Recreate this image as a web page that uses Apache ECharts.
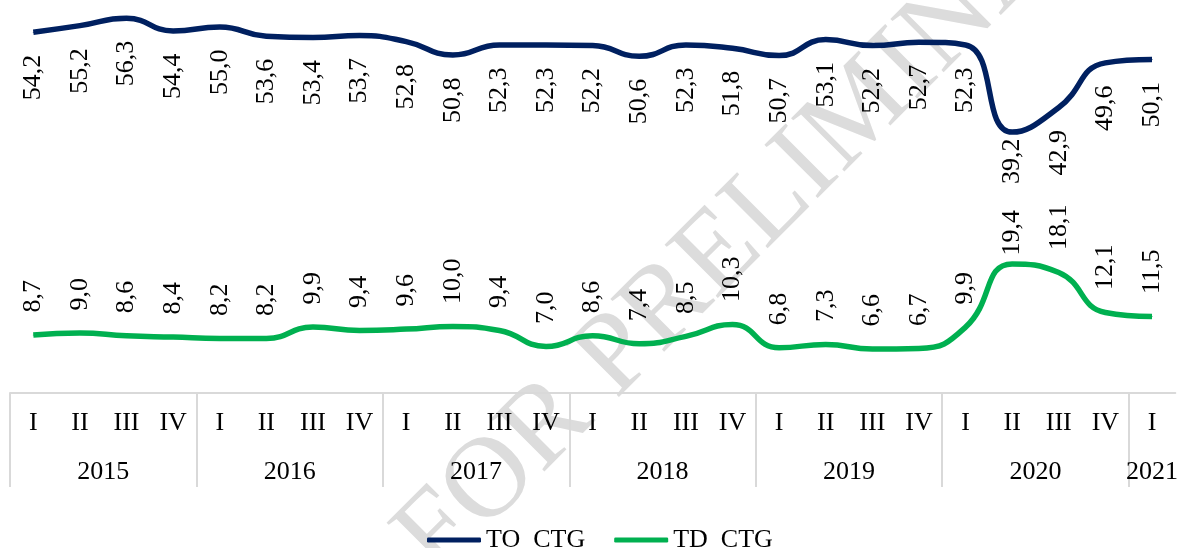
<!DOCTYPE html>
<html>
<head>
<meta charset="utf-8">
<script src="https://cdn.jsdelivr.net/npm/echarts@6/dist/echarts.min.js"></script>
<style>
  html, body { margin: 0; padding: 0; background: #fff; }
  #chart { width: 1181px; height: 548px; }
</style>
</head>
<body>
<div id="chart"></div>
<script>
// quarters 2015 I .. 2021 I
const quarters = ['I', 'II', 'III', 'IV', 'I', 'II', 'III', 'IV', 'I', 'II', 'III', 'IV',
  'I', 'II', 'III', 'IV', 'I', 'II', 'III', 'IV', 'I', 'II', 'III', 'IV', 'I'];
const years = ['2015', '2016', '2017', '2018', '2019', '2020', '2021'];
const yearCenters = [1.5, 5.5, 9.5, 13.5, 17.5, 21.5, 24];
const yearEdges = [-0.5, 3.5, 7.5, 11.5, 15.5, 19.5, 23.5];

const toCtg = [54.2, 55.2, 56.3, 54.4, 55.0, 53.6, 53.4, 53.7, 52.8, 50.8, 52.3, 52.3,
  52.2, 50.6, 52.3, 51.8, 50.7, 53.1, 52.2, 52.7, 52.3, 39.2, 42.9, 49.6, 50.1];
const tdCtg = [8.7, 9.0, 8.6, 8.4, 8.2, 8.2, 9.9, 9.4, 9.6, 10.0, 9.4, 7.0,
  8.6, 7.4, 8.5, 10.3, 6.8, 7.3, 6.6, 6.7, 9.9, 19.4, 18.1, 12.1, 11.5];

const FONT = '"Liberation Serif", "Times New Roman", serif';
const fmt = p => p.value.toFixed(1).replace('.', ',');

// 2020 II labels were pulled in closer to the line in the original
const withLabelGap = (arr, idx, gap) =>
  arr.map((v, i) => (i === idx ? { value: v, label: { distance: gap } } : v));

let chart = echarts.init(document.getElementById('chart'));
chart.setOption({
  animation: false,
  textStyle: { fontFamily: FONT, color: '#000' },
  grid: { left: 10, right: 1, top: 7, bottom: 155 },
  legend: {
    left: 422,
    top: 522,
    icon: 'roundRect',
    itemWidth: 54,
    itemHeight: 5,
    itemGap: 29,
    textStyle: { fontFamily: FONT, fontSize: 26, color: '#000' },
    data: ['TO  CTG', 'TD  CTG']
  },
  // watermark
  graphic: [{
    type: 'text',
    x: 781,
    y: 192,
    rotation: Math.PI / 4,
    silent: true,
    z: 0,
    style: {
      text: 'FOR PRELIMINARY',
      font: '115px "Liberation Serif"',
      fill: '#dcdcdc',
      textAlign: 'center',
      textVerticalAlign: 'middle'
    }
  }],
  xAxis: [
    {
      type: 'category',
      position: 'bottom',
      offset: 0,
      boundaryGap: true,
      data: quarters,
      axisLine: { show: true, lineStyle: { color: '#d9d9d9', width: 2 } },
      axisTick: { show: false },
      axisLabel: { interval: 0, margin: 17, fontFamily: FONT, fontSize: 26, color: '#000' }
    },
    {
      type: 'value',
      position: 'bottom',
      offset: 0,
      min: -0.5,
      max: 24.5,
      axisLine: { show: false },
      splitLine: { show: false },
      axisTick: {
        show: true,
        inside: false,
        length: 94,
        customValues: yearEdges,
        lineStyle: { color: '#d9d9d9', width: 2 }
      },
      axisLabel: {
        margin: 66,
        customValues: yearCenters,
        fontFamily: FONT,
        fontSize: 26,
        color: '#000',
        formatter: v => years[yearCenters.indexOf(v)] || ''
      }
    }
  ],
  yAxis: {
    type: 'value',
    min: 0,
    max: 58,
    show: false,
    splitLine: { show: false }
  },
  series: [
    {
      name: 'TO  CTG',
      type: 'line',
      xAxisIndex: 0,
      data: withLabelGap(toCtg, 21, 6),
      smooth: true,
      symbol: 'circle',
      symbolSize: 1,
      showSymbol: true,
      z: 3,
      lineStyle: { color: '#002060', width: 5.5 },
      itemStyle: { color: '#002060' },
      label: {
        show: true,
        position: 'bottom',
        distance: 22,
        rotate: 90,
        align: 'right',
        verticalAlign: 'middle',
        fontFamily: FONT,
        fontSize: 26,
        color: '#000',
        formatter: fmt
      }
    },
    {
      name: 'TD  CTG',
      type: 'line',
      xAxisIndex: 0,
      data: withLabelGap(tdCtg, 21, 8),
      smooth: true,
      symbol: 'circle',
      symbolSize: 1,
      showSymbol: true,
      z: 3,
      lineStyle: { color: '#00b050', width: 5.5 },
      itemStyle: { color: '#00b050' },
      label: {
        show: true,
        position: 'top',
        distance: 22,
        rotate: 90,
        align: 'left',
        verticalAlign: 'middle',
        fontFamily: FONT,
        fontSize: 26,
        color: '#000',
        formatter: fmt
      }
    }
  ]
});
</script>
</body>
</html>
